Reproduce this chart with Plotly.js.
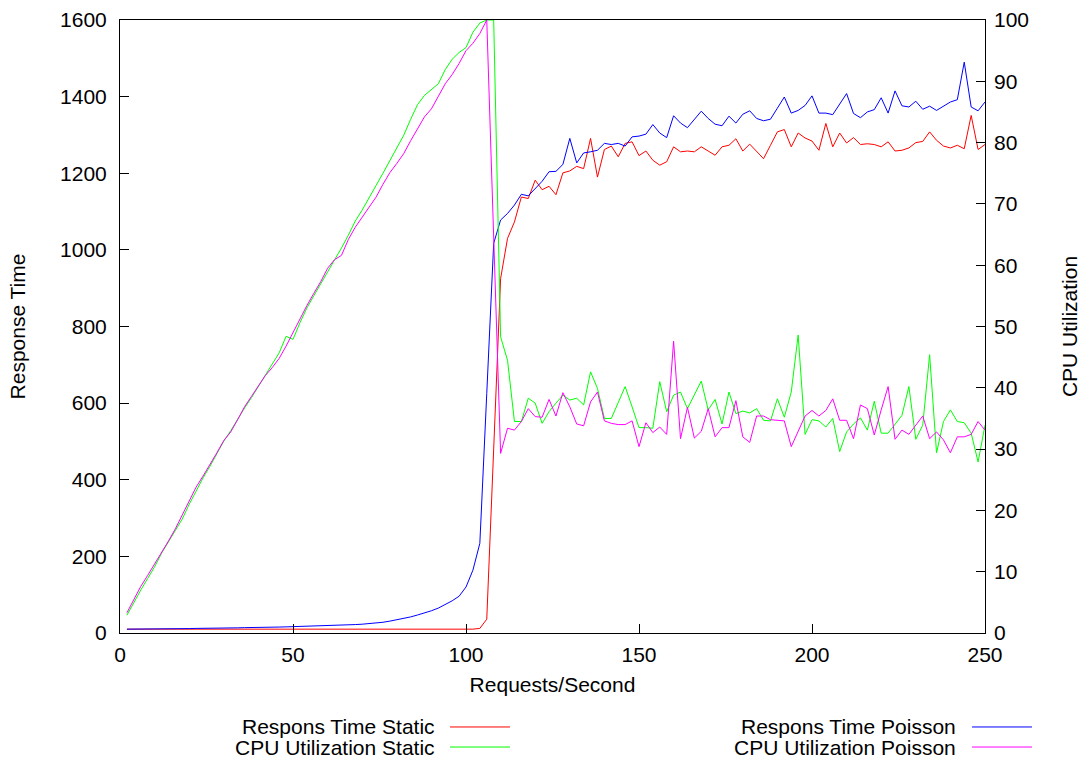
<!DOCTYPE html>
<html>
<head>
<meta charset="utf-8">
<script src="https://cdn.plot.ly/plotly-3.0.1.min.js"></script>
<style>
  html, body { margin: 0; padding: 0; background: #ffffff; }
  #chart { width: 1084px; height: 760px; }
</style>
</head>
<body>
<div id="chart"></div>
<script>
// Offered load (requests per second)
const rate = [2,4,6,8,10,12,14,16,18,20,22,24,26,28,30,32,34,36,38,40,42,44,46,48,50,
  52,54,56,58,60,62,64,66,68,70,72,74,76,78,80,82,84,86,88,90,92,94,96,98,100,
  102,104,106,108,110,112,114,116,118,120,122,124,126,128,130,132,134,136,138,140,
  142,144,146,148,150,152,154,156,158,160,162,164,166,168,170,172,174,176,178,180,
  182,184,186,188,190,192,194,196,198,200,202,204,206,208,210,212,214,216,218,220,
  222,224,226,228,230,232,234,236,238,240,242,244,246,248,250];

// Response time, static arrivals
const respStatic = [10,10,10,10,10,10,10,10,10,10,10,10,10,10,10,10,10,10,10,10,
  10,10,10,10,10,10,10,10,10,10,10,10,10,10,10,10,10,10,10,10,10,10,10,10,10,10,10,10,10,10,10,
  12,36,480,925,
  1030,1073,1138,1134,1182,1157,1166,1144,1201,1206,
  1218,1212,1291,1190,1262,1271,1243,1278,1282,1246,
  1258,1234,1221,1230,1269,1256,1258,1256,1269,1257,
  1247,1269,1273,1290,1258,1276,1256,1238,1273,1308,
  1314,1269,1305,1292,1284,1260,1330,1269,1305,1279,
  1293,1275,1277,1275,1269,1282,1258,1260,1266,1280,
  1283,1308,1286,1271,1266,1273,1264,1351,1262,1275];

// CPU utilization, static arrivals
const cpuStatic = [2.9,5.0,7.0,8.9,10.8,13.0,14.8,16.6,18.6,21.0,
  23.2,25.3,27.2,29.3,31.3,33.0,34.9,36.7,38.4,40.2,
  42.0,43.8,45.7,48.4,47.9,50.6,53.0,55.0,56.9,58.8,
  60.7,62.8,64.9,67.2,69.0,70.9,73.0,75.0,77.0,79.0,
  81.2,83.8,86.2,87.7,88.7,89.6,91.9,93.6,94.7,95.5,
  98.0,99.5,100,100,
  48.3,44.5,34.5,34.5,38.3,37.5,34.2,36.1,37.5,38.8,
  38.0,38.3,37.2,42.6,39.9,35.0,35.0,37.5,40.2,36.9,
  33.5,33.5,33.4,41.0,36.1,38.8,39.3,36.6,38.8,41.1,
  36.4,38.1,34.1,39.3,35.8,36.2,35.9,36.6,34.7,34.6,
  38.2,35.2,39.3,48.6,32.4,34.8,34.6,33.6,35.0,29.6,
  32.8,34.1,35.1,33.1,37.8,32.6,32.6,34.0,35.5,40.2,
  31.6,33.9,45.4,29.4,34.5,36.4,34.5,34.3,32.6,27.9,
  33.9];

// Response time, Poisson arrivals
const respPoisson = [10,10,10,10.5,10.5,11,11,11,11.5,11.5,12,12,12.5,12.5,13,13,13.5,14,14,14.5,
  15,15,15.5,16,16.5,17,17,17.5,18,19,19.5,20,21,22,23,24.5,26,
  28,31,34,38,42,47,52,58,65,74,84,96,120,164,234,625,1017,1078,
  1095,1117,1145,1141,1160,1179,1204,1205,1223,1291,
  1227,1253,1256,1260,1278,1275,1278,1271,1295,1297,
  1302,1327,1305,1293,1350,1331,1319,1341,1362,1343,
  1328,1324,1349,1331,1354,1363,1343,1337,1341,1370,
  1399,1357,1364,1377,1402,1357,1357,1353,1380,1408,
  1356,1345,1360,1366,1397,1357,1415,1376,1373,1388,
  1367,1375,1364,1376,1386,1392,1490,1373,1363,1386];

// CPU utilization, Poisson arrivals
const cpuPoisson = [3.3,5.5,7.6,9.4,11.2,13.2,15.0,17.0,19.2,21.6,
  23.8,25.6,27.4,29.4,31.4,32.8,34.8,36.9,38.6,40.3,
  42.0,43.3,44.8,46.8,49.0,51.3,53.4,55.4,57.3,59.5,
  60.9,61.6,64.2,66.2,67.9,69.4,71.1,73.2,75.1,76.6,
  78.2,80.3,82.2,84.2,85.5,87.6,89.6,91.1,92.9,95.0,
  96.2,97.8,100,64.6,
  29.3,33.4,33.1,34.5,36.6,35.3,35.2,38.1,35.4,39.2,
  36.9,34.1,33.8,37.7,39.3,34.6,34.2,34.0,34.0,34.6,
  30.4,34.3,32.7,33.6,32.4,47.6,31.7,36.8,31.8,32.9,
  36.6,32.0,33.5,33.5,37.9,32.0,31.1,35.4,35.4,34.8,
  34.7,34.6,30.4,32.9,35.4,36.3,35.4,36.3,38.2,34.7,
  34.7,31.7,37.2,36.6,32.3,36.4,40.2,31.6,33.1,32.4,
  33.9,35.4,31.7,32.8,31.5,29.4,32.0,32.0,32.4,34.5,
  33.1];

const seriesNames = ['Respons Time Static', 'CPU Utilization Static',
                     'Respons Time Poisson', 'CPU Utilization Poisson'];
const seriesColors = ['#ff0000', '#00ff00', '#0000ff', '#ff00ff'];

const FONT = 'Liberation Sans, Arial, sans-serif';
const FS = 21;

const traces = [
  { x: rate, y: respStatic, yaxis: 'y' },
  { x: rate, y: cpuStatic, yaxis: 'y2' },
  { x: rate, y: respPoisson, yaxis: 'y' },
  { x: rate, y: cpuPoisson, yaxis: 'y2' }
].map((t, i) => Object.assign(t, {
  type: 'scatter', mode: 'lines', name: seriesNames[i],
  line: { color: seriesColors[i], width: 1 }, showlegend: false
}));

// Two-column key below the plot: label text on the left, line sample on the right
const keyRows = [-0.1533, -0.1860];
const keyCols = [{ textEnd: 0.3665, l0: 0.3815, l1: 0.4509 },
                 { textEnd: 0.9688, l0: 0.9850, l1: 1.0543 }];
const annotations = [];
const shapes = [];
seriesNames.forEach((name, i) => {
  const col = keyCols[Math.floor(i / 2)];
  const row = keyRows[i % 2];
  annotations.push({
    xref: 'paper', yref: 'paper', x: col.textEnd, y: row,
    xanchor: 'right', yanchor: 'middle', showarrow: false,
    text: name, font: { family: FONT, size: FS, color: '#000000' }
  });
  shapes.push({
    type: 'line', xref: 'paper', yref: 'paper',
    x0: col.l0, x1: col.l1, y0: row, y1: row,
    line: { color: seriesColors[i], width: 1 }
  });
});

const axisCommon = {
  showgrid: false, zeroline: false, ticks: 'inside', ticklen: 9, tickwidth: 1,
  tickcolor: '#000000', linecolor: '#000000', linewidth: 1,
  tickfont: { family: FONT, size: FS, color: '#000000' }
};

const layout = {
  width: 1084, height: 760,
  margin: { l: 120, r: 99, t: 20, b: 127 },
  paper_bgcolor: '#ffffff', plot_bgcolor: '#ffffff',
  showlegend: false,
  xaxis: Object.assign({}, axisCommon, {
    range: [0, 250], dtick: 50, showline: true, mirror: true,
    ticklabelstandoff: 3,
    title: { text: 'Requests/Second', standoff: 12,
             font: { family: FONT, size: FS, color: '#000000' } }
  }),
  yaxis: Object.assign({}, axisCommon, {
    range: [0, 1600], dtick: 200, showline: true, mirror: true,
    ticklabelstandoff: 8,
    title: { text: 'Response Time', standoff: 28,
             font: { family: FONT, size: FS, color: '#000000' } }
  }),
  yaxis2: Object.assign({}, axisCommon, {
    range: [0, 100], dtick: 10, overlaying: 'y', side: 'right', showline: false,
    ticklabelstandoff: 8,
    title: { text: 'CPU Utilization', standoff: 34,
             font: { family: FONT, size: FS, color: '#000000' } }
  }),
  annotations: annotations,
  shapes: shapes
};

Plotly.newPlot('chart', traces, layout, { displayModeBar: false, staticPlot: true });
</script>
</body>
</html>
